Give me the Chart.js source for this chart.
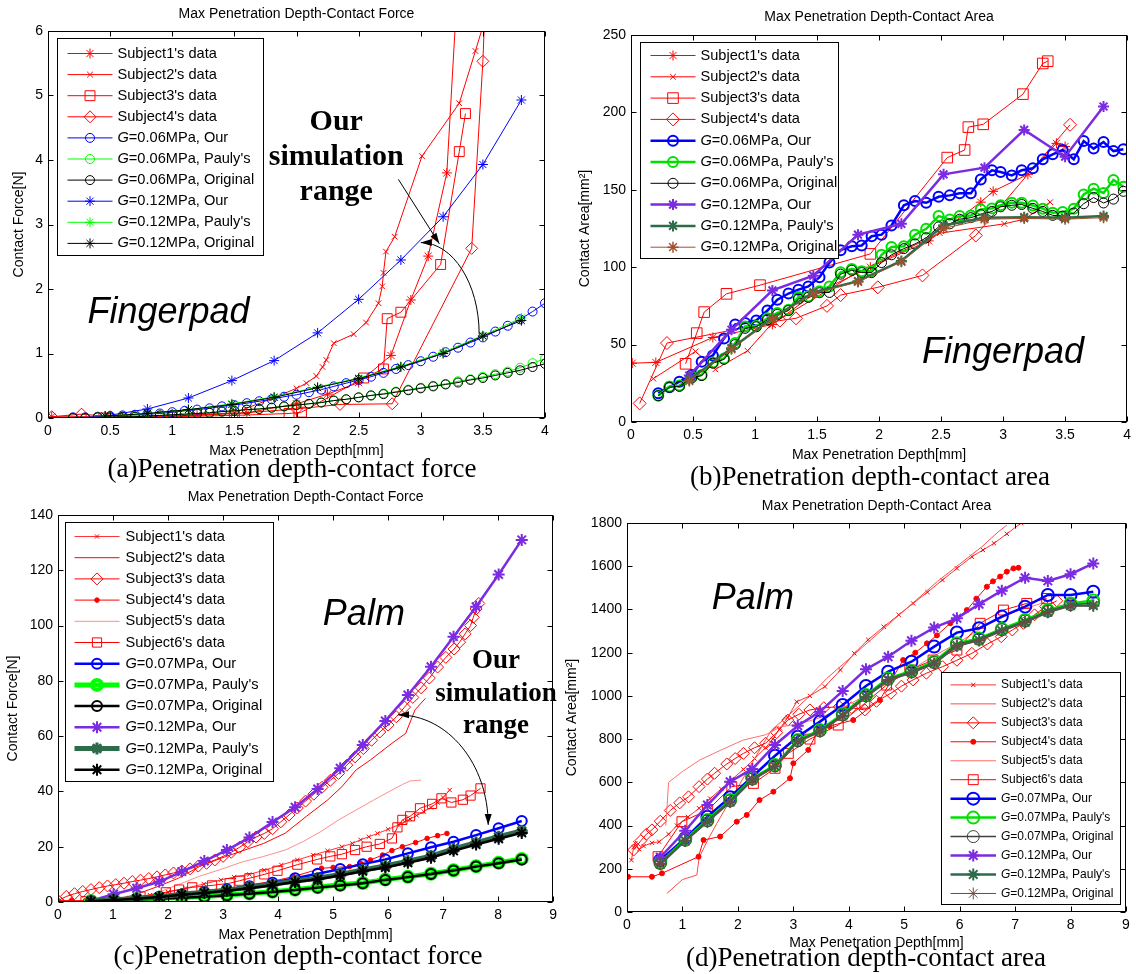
<!DOCTYPE html>
<html lang="en">
<head>
<meta charset="UTF-8">
<title>Penetration depth - contact force / area</title>
<script src="https://cdn.jsdelivr.net/npm/chart.js"></script>
<style>
  body { margin: 0; background: #fff; }
  #page { position: relative; width: 1136px; height: 974px; overflow: hidden; background: #fff; }
  canvas { position: absolute; }
  .cap {
    position: absolute; white-space: nowrap; color: #000;
    font-family: "Liberation Serif", "Times New Roman", serif;
    font-size: 27px; line-height: 27px; transform: translateX(-50%);
  }
</style>
</head>
<body>
<div id="page">
  <canvas id="chartA"></canvas>
  <canvas id="chartB"></canvas>
  <canvas id="chartC"></canvas>
  <canvas id="chartD"></canvas>
  <div class="cap" style="left:292px; top:455px;">(a)Penetration depth-contact force</div>
  <div class="cap" style="left:870px; top:463px;">(b)Penetration depth-contact area</div>
  <div class="cap" style="left:298px; top:942px;">(c)Penetration depth-contact force</div>
  <div class="cap" style="left:866px; top:944px;">(d)Penetration depth-contact area</div>
</div>
<script>
// ---------- (a) fingerpad, depth vs force ----------
const aSubj1 = [[0.03,0.02],[0.6,0.02],[1.2,0.04],[1.6,0.08],[2.0,0.22],[2.25,0.37],[2.5,0.55],[2.76,0.97],[2.92,1.83],[3.06,2.51],[3.21,3.80],[3.29,6.5]];
const aSubj2 = [[0.5,0.01],[1.0,0.03],[1.5,0.08],[1.8,0.3],[2.0,0.46],[2.08,0.54],[2.16,0.65],[2.21,0.79],[2.24,0.9],[2.3,1.16],[2.46,1.3],[2.56,1.48],[2.66,1.78],[2.69,2.04],[2.7,2.25],[2.72,2.58],[2.79,2.81],[3.01,4.06],[3.31,4.88],[3.44,5.69],[3.52,6.2]];
const aSubj3 = [[0.45,0.0],[1.0,0.02],[1.5,0.04],[1.94,0.07],[2.04,0.09],[2.54,0.62],[2.7,0.76],[2.73,1.54],[2.84,1.64],[3.16,2.38],[3.31,4.13],[3.36,4.72]];
const aSubj4 = [[0.03,0.02],[0.27,0.06],[0.5,0.02],[1.0,0.04],[1.5,0.07],[2.0,0.14],[2.35,0.21],[2.77,0.22],[3.41,2.63],[3.5,5.53],[3.52,6.5]];
const aX06 = [0.2,0.3,0.4,0.5,0.6,0.7,0.8,0.9,1.0,1.1,1.2,1.3,1.4,1.5,1.6,1.7,1.8,1.9,2.0,2.1,2.2,2.3,2.4,2.5,2.6,2.7,2.8,2.9,3.0,3.1,3.2,3.3,3.4,3.5,3.6,3.7,3.8,3.9,4.0];
const aOur06 = [0.01,0.01,0.02,0.03,0.04,0.05,0.06,0.07,0.09,0.11,0.13,0.15,0.18,0.2,0.23,0.26,0.29,0.33,0.36,0.4,0.44,0.49,0.54,0.59,0.64,0.7,0.76,0.82,0.88,0.95,1.02,1.09,1.17,1.25,1.34,1.43,1.53,1.65,1.78];
const aPauly06 = [0,0,0.01,0.01,0.02,0.02,0.03,0.04,0.05,0.06,0.07,0.08,0.1,0.11,0.13,0.14,0.16,0.18,0.2,0.22,0.24,0.27,0.29,0.32,0.35,0.38,0.41,0.44,0.47,0.5,0.53,0.57,0.6,0.64,0.68,0.72,0.78,0.85,0.92];
const aOrig06 = [0,0,0.01,0.01,0.02,0.02,0.03,0.04,0.05,0.06,0.07,0.08,0.1,0.11,0.13,0.14,0.16,0.18,0.2,0.22,0.24,0.27,0.29,0.32,0.35,0.37,0.4,0.43,0.46,0.49,0.52,0.55,0.59,0.62,0.66,0.7,0.74,0.79,0.84];
const aX12 = [0.46,0.8,1.13,1.48,1.82,2.17,2.5,2.84,3.18,3.5,3.81];
const aOur12 = [0.03,0.14,0.31,0.58,0.89,1.32,1.84,2.45,3.12,3.93,4.93];
const aPauly12 = [0.03,0.07,0.13,0.22,0.33,0.48,0.62,0.8,1.02,1.28,1.55];
const aOrig12 = [0.03,0.07,0.13,0.21,0.32,0.47,0.61,0.79,1.0,1.27,1.51];

// ---------- (b) fingerpad, depth vs area ----------
const bSubj1 = [[0.01,38],[0.2,38.5],[0.66,54.6],[1.14,63],[1.48,83],[1.93,100],[2.4,117],[2.82,142],[2.92,149],[3.2,160],[3.43,180],[3.5,178]];
const bSubj2 = [[0.18,28],[0.52,45.6],[0.68,34],[0.94,46],[1.13,63],[1.81,96],[2.49,122],[3.01,128],[3.17,131],[3.38,142]];
const bSubj3 = [[0.44,37.6],[0.53,57.4],[0.59,71],[0.77,82.8],[1.04,88.4],[1.93,108.6],[2.55,170.8],[2.69,175.7],[2.72,190.5],[2.84,192.3],[3.16,211.8],[3.32,231.6],[3.36,233.1]];
const bSubj4 = [[0.07,12],[0.29,51],[1.2,65.5],[1.33,67],[1.58,75],[1.69,82],[1.99,87],[2.35,94.7],[2.78,120.5],[3.54,192]];
const bX06 = [0.22,0.31,0.39,0.49,0.57,0.66,0.75,0.84,0.92,1.01,1.10,1.18,1.27,1.35,1.43,1.52,1.60,1.69,1.78,1.86,1.94,2.02,2.10,2.20,2.29,2.38,2.48,2.57,2.65,2.74,2.82,2.91,2.98,3.07,3.15,3.24,3.32,3.40,3.48,3.57,3.65,3.73,3.81,3.89,3.97];
const bOur06 = [18.6,22.5,26,30.4,39,43,54,63,64,65.6,72,79,83,85.5,87.6,93.5,103,111,113.5,114,120,121,127,140,142.7,141.6,145.5,146.4,147.7,147.7,156.7,162.6,161.5,159.3,162.6,163.9,169.7,172.9,175.7,169.7,181.5,176.6,180.9,175,176.2];
const bPauly06 = [17,23,23.5,29,30.4,38.5,41,51,61.7,62,67,70.4,72.5,80.7,81,84.4,87.6,96.7,98.9,97.4,97.4,108,113,113.5,121,124.8,133,130.8,133,133.4,137.3,138,140,141.6,141.6,139.9,137.8,135.2,135.6,137.8,147,150.7,148,156.3,152];
const bOrig06 = [17,22.5,23,28.5,30,38,40.5,50,60.5,61.5,66,69.5,72,79.5,80.5,83.5,83.7,95.5,98,96.5,96.5,103,108,112,115,119,126,128,131,132,134,136,139,140,140.5,138,136,133.5,133,135,141,145,141.5,144,149];
const bX12 = [0.47,0.81,1.14,1.47,1.83,2.18,2.52,2.85,3.17,3.50,3.81];
const bOur12 = [30,59.6,85,94.5,121,128,160,164.3,188.7,171.4,203.8];
const bPauly12 = [27.2,47.7,67,83.7,91,104,127,132,132.3,132,133];
const bOrig12 = [26.5,47,66.5,83,90.5,103.5,125,131,131.5,131,132];

// ---------- (c) palm, depth vs force ----------
const cSubj1 = [[0.5,0.3],[0.8,0.5],[1.0,0.8],[1.3,1.5],[1.67,2.5],[2.0,3.6],[2.32,5],[2.65,6.5],[2.96,8],[3.2,9],[3.48,10],[3.75,11.5],[4.06,13.4],[4.35,15.2],[4.64,17],[4.9,18.5],[5.16,20],[5.35,21.2],[5.5,22.5],[5.65,23.6],[5.81,24.8],[6.0,26.3],[6.19,27.9],[6.3,29],[6.4,30],[6.52,31.3],[6.65,32.7],[6.78,34.2],[6.9,36],[7.0,37.8],[7.12,40.5]];
const cSubj2 = [[1.05,0.9],[1.41,2.7],[1.8,5.5],[2.19,8.6],[2.57,12.8],[2.96,15.8],[3.35,18.5],[3.74,21.2],[4.13,24.9],[4.51,30.9],[4.9,36.9],[5.16,41.7],[5.42,47.8],[5.68,51.4],[6.07,57.4],[6.32,61],[6.49,69.5],[6.68,73.7]];
const cSubj3 = [[0,0.5],[0.15,2],[0.3,3],[0.45,3.8],[0.6,4.5],[0.75,5.2],[0.9,5.8],[1.05,6.3],[1.2,6.8],[1.35,7.4],[1.5,7.9],[1.65,8.5],[1.8,9.1],[1.95,9.8],[2.1,10.5],[2.25,11.2],[2.4,12],[2.55,13],[2.7,14],[2.85,15.2],[3.0,16.5],[3.15,18],[3.3,19.8],[3.45,21.8],[3.6,23.5],[3.75,24.8],[3.9,26.5],[4.05,29],[4.2,31.5],[4.35,34],[4.5,36.5],[4.65,39],[4.8,41.5],[4.95,44],[5.1,46.5],[5.25,49.5],[5.4,52.5],[5.55,55.5],[5.7,58.5],[5.85,61.5],[6.0,64],[6.15,67],[6.3,70.5],[6.45,74],[6.6,77.5],[6.75,81],[6.9,85],[7.05,88.5],[7.2,91.5],[7.3,94],[7.4,97],[7.5,100],[7.55,103],[7.6,106],[7.65,108]];
const cSubj4 = [[0,0.5],[0.25,0.5],[0.5,0.5],[1.0,0.6],[1.6,0.9],[2.22,2],[2.86,3.8],[3.48,6.2],[3.9,7.5],[4.28,9.2],[4.79,12.2],[5.0,12.5],[5.3,12.8],[5.5,14],[5.68,15.2],[5.9,17],[6.07,18.6],[6.26,20],[6.5,21.5],[6.71,23],[6.9,24],[7.07,24.8]];
const cSubj5 = [[0.9,0.3],[1.41,1.5],[1.8,3.3],[2.19,6.3],[2.57,9.3],[2.96,11.8],[3.35,14.5],[3.74,16.5],[4.13,18.8],[4.46,21.9],[4.78,25.5],[5.1,29.7],[5.42,33.3],[5.74,36.9],[6.07,40.5],[6.26,42.5],[6.4,43.8],[6.6,44.1]];
const cSubj6 = [[0.5,0.3],[1.0,1],[1.5,2],[1.96,3.5],[2.2,4.5],[2.44,5.3],[2.8,6],[3.12,6.8],[3.3,7.7],[3.48,8.6],[3.75,10],[3.99,11.3],[4.35,13.5],[4.71,15.4],[4.95,16.5],[5.16,17.3],[5.4,18.8],[5.61,20],[5.85,21],[6.07,23],[6.17,27],[6.26,29.7],[6.4,31],[6.58,33.9],[6.8,35.5],[6.97,37.5],[7.15,36],[7.36,37],[7.5,38.5],[7.68,41.1]];
const cX = [0.6,1.01,1.43,1.84,2.25,2.66,3.07,3.48,3.9,4.31,4.72,5.13,5.54,5.95,6.36,6.78,7.19,7.6,8.01,8.43];
const cOur07 = [0.4,0.8,1.3,1.9,2.7,3.6,4.6,5.7,7.0,8.6,10.2,11.9,13.7,15.4,17.6,19.8,21.8,24.2,26.7,29.3];
const cPauly07 = [0.4,0.8,1.0,1.3,1.6,2.0,2.5,3.1,3.7,4.4,5.3,6.2,6.9,8.1,9.1,10.2,11.5,12.9,14.2,15.6];
const cOrig07 = [0.3,0.7,0.9,1.2,1.5,1.9,2.4,3.0,3.6,4.3,5.2,6.0,6.8,8.0,9.0,10.1,11.4,12.8,14.0,15.4];
const cOur12 = [0.5,2.8,5,7.3,11,14.8,18.8,23.3,28.9,34.3,40.9,48.4,56.8,65.5,74.9,85.1,96,106.8,118.5,131];
const cPauly12 = [0.4,0.8,1.3,1.9,2.8,3.5,4.3,5.3,6.4,7.6,8.6,10,11.6,13,14.8,16.6,19.2,21.5,23.6,25.7];
const cOrig12 = [0.3,0.7,1.2,1.8,2.6,3.3,4.1,5.0,6.1,7.2,8.2,9.6,11.1,12.5,14.2,16.0,18.5,20.8,22.9,25.0];

// ---------- (d) palm, depth vs area ----------
const dSubj1 = [[0.08,240],[0.12,300],[0.15,318],[0.22,290],[0.3,305],[0.45,320],[0.58,325],[0.75,360],[0.9,400],[1.1,440],[1.3,480],[1.5,525],[1.7,570],[1.9,615],[2.1,660],[2.3,710],[2.5,760],[2.63,800],[2.76,850],[2.9,900],[3.06,973],[3.3,1000],[3.57,1043],[3.85,1120],[4.1,1197],[4.35,1260],[4.63,1320],[4.9,1375],[5.16,1428],[5.42,1480],[5.69,1536],[5.95,1590],[6.22,1644],[6.42,1675],[6.62,1706],[6.85,1750],[7.11,1800]];
const dSubj2 = [[0.72,86],[1.0,150],[1.26,171],[1.3,250],[1.45,330],[1.62,410],[2.04,595],[2.6,840],[3.0,930],[3.3,1000],[3.6,1080],[4.0,1170],[4.4,1260],[4.8,1350],[5.2,1440],[5.6,1530],[6.0,1610],[6.4,1690],[6.7,1760],[6.85,1790]];
const dSubj3 = [[0.12,287],[0.25,330],[0.35,360],[0.45,380],[0.6,420],[0.78,470],[0.95,505],[1.11,533],[1.3,580],[1.45,615],[1.58,642],[1.8,685],[1.95,710],[2.1,734],[2.3,760],[2.5,781],[2.7,830],[2.9,888],[3.1,915],[3.3,935],[3.55,945],[3.83,950],[4.05,945],[4.29,935],[4.5,975],[4.76,1012],[4.95,1045],[5.16,1074],[5.4,1105],[5.69,1135],[5.95,1165],[6.22,1197],[6.5,1240],[6.75,1274],[6.95,1305],[7.15,1336],[7.35,1375],[7.55,1413],[7.75,1440]];
const dSubj4 = [[0.02,163],[0.45,163],[0.63,179],[1.29,256],[1.38,333],[1.68,349],[1.98,418],[2.16,449],[2.39,518],[2.64,557],[2.94,619],[3.0,688],[3.27,750],[3.45,842],[3.65,860],[4.08,888],[4.56,981],[4.98,1166],[5.2,1200],[5.41,1243],[5.59,1280],[5.83,1336],[5.95,1360],[6.13,1397],[6.3,1450],[6.49,1505],[6.6,1530],[6.73,1552],[6.85,1575],[6.97,1590],[7.06,1593]];
const dSubj5 = [[0.7,400],[0.75,600],[1.0,650],[1.31,703],[1.7,750],[2.1,796],[2.5,820],[2.77,857],[3.1,870],[3.5,900],[4.0,960],[4.5,1030],[5.0,1100],[5.5,1180],[6.0,1250],[6.5,1330],[7.0,1390],[7.5,1430]];
const dSubj6 = [[0.56,256],[0.99,418],[1.45,470],[1.89,580],[2.28,595],[2.67,665],[2.91,734],[3.3,800],[3.81,865],[4.29,966],[4.68,1050],[5.1,1120],[5.52,1166],[5.95,1212],[6.37,1336],[6.79,1397],[7.21,1428],[7.57,1451]];
const dX = [0.6,1.05,1.45,1.86,2.26,2.67,3.08,3.48,3.89,4.31,4.71,5.13,5.54,5.95,6.35,6.76,7.18,7.59,8.0,8.41];
const dOur07 = [240,341,441,531,626,723,811,881,958,1046,1112,1158,1228,1293,1313,1367,1413,1467,1467,1482];
const dPauly07 = [228,336,426,518,619,680,796,842,916,1004,1081,1115,1158,1243,1266,1310,1351,1397,1428,1441];
const dOrig07 = [225,332,422,514,615,676,792,838,912,1000,1077,1111,1154,1238,1262,1306,1346,1392,1422,1430];
const dOur12 = [253,376,495,603,662,773,862,927,1023,1123,1181,1255,1316,1359,1424,1487,1547,1532,1563,1613];
const dPauly12 = [222,330,418,510,612,674,790,836,908,996,1074,1108,1150,1232,1258,1302,1342,1388,1418,1418];
const dOrig12 = [220,328,416,508,610,672,788,834,906,994,1072,1106,1148,1230,1256,1300,1340,1386,1416,1416];

// ---------- styling ----------
const FONT = '"Liberation Sans", Arial, Helvetica, sans-serif';
const SERIF = '"Liberation Serif", "Times New Roman", serif';
const RED = '#ff0000', PINK = '#ff7070', BLUE = '#0000ff', GREEN = '#00ff00', GREEN2 = '#00e000';
const PURPLE = '#7b2be2', DKGREEN = '#2e6b4a', BROWN = '#a0522d', DKBROWN = '#6e4a46', BLACK = '#000000';

const P = a => a.map(([x, y]) => ({x, y}));
const Z = (xs, ys) => xs.map((x, i) => ({x, y: ys[i]}));

function ser(label, data, o) {
  return {
    label, data,
    borderColor: o.c, borderWidth: o.lw || 1,
    pointStyle: o.m || 'circle',
    pointRadius: o.m ? o.r : 0,
    pointBorderColor: o.c,
    pointBorderWidth: o.bw || 1,
    pointBackgroundColor: o.fill || 'rgba(0,0,0,0)',
    tension: 0, fill: false
  };
}

function head(ctx, from, to) {
  const ang = Math.atan2(to[1] - from[1], to[0] - from[0]);
  const L = 11, W = 3.5;
  const bx = to[0] - L * Math.cos(ang), by = to[1] - L * Math.sin(ang);
  ctx.beginPath();
  ctx.moveTo(to[0], to[1]);
  ctx.lineTo(bx + W * Math.sin(ang), by - W * Math.cos(ang));
  ctx.lineTo(bx - W * Math.sin(ang), by + W * Math.cos(ang));
  ctx.closePath();
  ctx.fill();
}

// texts, arrows, matlab style box with inward ticks, legend inside the axes
const overlay = {
  id: 'overlay',
  afterDatasetsDraw(chart) {
    const o = chart.options.plugins.overlay;
    const {ctx, chartArea: a} = chart;
    const X = v => chart.scales.x.getPixelForValue(v);
    const Y = v => chart.scales.y.getPixelForValue(v);
    ctx.save();

    ctx.fillStyle = '#000';
    ctx.textAlign = 'center';
    ctx.textBaseline = 'alphabetic';
    o.texts.forEach(t => {
      ctx.font = t.font;
      t.lines.forEach((s, i) => ctx.fillText(s, X(t.x), Y(t.y) + i * (t.step || 0)));
    });

    ctx.strokeStyle = '#000';
    ctx.lineWidth = 1;
    o.arrows.forEach(ar => {
      const p = ar.pts.map(([x, y]) => [X(x), Y(y)]);
      ctx.beginPath();
      ctx.moveTo(p[0][0], p[0][1]);
      if (p.length === 4) ctx.bezierCurveTo(p[1][0], p[1][1], p[2][0], p[2][1], p[3][0], p[3][1]);
      else ctx.lineTo(p[1][0], p[1][1]);
      ctx.stroke();
      const n = p.length - 1;
      if (ar.end) head(ctx, p[n - 1], p[n]);
      if (ar.start) head(ctx, p[1], p[0]);
    });

    // box + ticks
    const l = Math.round(a.left) + 0.5, r = Math.round(a.right) - 0.5;
    const t = Math.round(a.top) + 0.5, b = Math.round(a.bottom) - 0.5;
    ctx.strokeRect(l, t, r - l, b - t);
    ctx.beginPath();
    chart.scales.x.ticks.forEach(tk => {
      const px = Math.round(X(tk.value)) + 0.5;
      ctx.moveTo(px, b); ctx.lineTo(px, b - 5);
      ctx.moveTo(px, t); ctx.lineTo(px, t + 5);
    });
    chart.scales.y.ticks.forEach(tk => {
      const py = Math.round(Y(tk.value)) + 0.5;
      ctx.moveTo(l, py); ctx.lineTo(l + 5, py);
      ctx.moveTo(r, py); ctx.lineTo(r - 5, py);
    });
    ctx.stroke();

    // legend
    const L = o.legend;
    const bx = Math.round(a.left + L.dx) + 0.5, by = Math.round(a.top + L.dy) + 0.5;
    ctx.fillStyle = '#fff';
    ctx.fillRect(bx, by, L.w, L.h);
    ctx.strokeStyle = '#000';
    ctx.lineWidth = 1;
    ctx.strokeRect(bx, by, L.w, L.h);
    ctx.textAlign = 'left';
    ctx.textBaseline = 'middle';
    chart.data.datasets.forEach((ds, i) => {
      const cy = by + L.first + i * L.step;
      ctx.strokeStyle = ds.borderColor;
      ctx.lineWidth = ds.borderWidth;
      ctx.beginPath();
      ctx.moveTo(bx + L.l0, cy); ctx.lineTo(bx + L.l1, cy);
      ctx.stroke();
      if (ds.pointRadius > 0) {
        ctx.fillStyle = ds.pointBackgroundColor;
        ctx.strokeStyle = ds.pointBorderColor;
        ctx.lineWidth = ds.pointBorderWidth;
        Chart.helpers.drawPoint(ctx, {pointStyle: ds.pointStyle, radius: ds.pointRadius, rotation: 0, borderWidth: ds.pointBorderWidth}, bx + (L.l0 + L.l1) / 2, cy);
      }
      ctx.fillStyle = '#000';
      let tx = bx + L.tx;
      const lab = ds.label;
      if (lab.startsWith('G=')) {
        ctx.font = 'italic ' + L.fs + 'px ' + FONT;
        ctx.fillText('G', tx, cy);
        tx += ctx.measureText('G').width;
        ctx.font = L.fs + 'px ' + FONT;
        ctx.fillText(lab.slice(1), tx, cy);
      } else {
        ctx.font = L.fs + 'px ' + FONT;
        ctx.fillText(lab, tx, cy);
      }
    });
    ctx.restore();
  }
};

function makeChart(id, g, sx, sy, title, yTitle, datasets, legend, texts, arrows) {
  const cv = document.getElementById(id);
  cv.style.left = g.cl + 'px';
  cv.style.top = g.ct + 'px';
  cv.width = g.cw; cv.height = g.ch;
  const lh = 14 * 1.2;
  const tTop = g.titleY - g.ct - lh / 2;
  const tBot = g.pt - g.ct - lh - tTop;
  const yW = g.pl - g.cl;
  const xH = g.ct + g.ch - g.pb;
  const f14 = {family: FONT, size: 14};
  const n = datasets.length;
  datasets.forEach((d, i) => { d.order = n - i; });
  return new Chart(cv, {
    type: 'line',
    data: {datasets},
    options: {
      responsive: false, animation: false, events: [],
      layout: {autoPadding: false, padding: {left: 0, top: 0, right: g.cl + g.cw - g.pr, bottom: 0}},
      plugins: {
        legend: {display: false},
        tooltip: {enabled: false},
        title: {display: true, text: title, fullSize: false, color: '#000', font: {family: FONT, size: 14, weight: 'normal'}, padding: {top: tTop, bottom: tBot}},
        overlay: {legend, texts, arrows}
      },
      scales: {
        x: {
          type: 'linear', min: sx[0], max: sx[1],
          afterFit(s) { s.height = xH; },
          grid: {display: false, drawTicks: false}, border: {display: false},
          ticks: {stepSize: sx[2], color: '#000', font: f14, padding: 5, maxRotation: 0, autoSkip: false, callback: v => String(v)},
          title: {display: true, text: 'Max Penetration Depth[mm]', color: '#000', font: f14, padding: {top: 0, bottom: g.ct + g.ch - g.xTitleY - lh / 2}}
        },
        y: {
          type: 'linear', min: sy[0], max: sy[1],
          afterFit(s) { s.width = yW; },
          grid: {display: false, drawTicks: false}, border: {display: false},
          ticks: {stepSize: sy[2], color: '#000', font: f14, padding: 5, autoSkip: false, callback: v => String(v)},
          title: {display: true, text: yTitle, color: '#000', font: f14, padding: {top: g.yTitleX - g.cl - lh / 2, bottom: 0}}
        }
      }
    },
    plugins: [overlay]
  });
}

// (a)
makeChart('chartA',
  {cl: 0, ct: 0, cw: 560, ch: 470, pl: 48, pt: 31, pr: 545, pb: 418, titleY: 14, xTitleY: 451, yTitleX: 19},
  [0, 4, 0.5], [0, 6, 1],
  'Max Penetration Depth-Contact Force', 'Contact Force[N]',
  [
    ser("Subject1's data", P(aSubj1), {c: RED, m: 'star', r: 5}),
    ser("Subject2's data", P(aSubj2), {c: RED, m: 'crossRot', r: 4}),
    ser("Subject3's data", P(aSubj3), {c: RED, m: 'rect', r: 7}),
    ser("Subject4's data", P(aSubj4), {c: RED, m: 'rectRot', r: 6}),
    ser('G=0.06MPa, Our', Z(aX06, aOur06), {c: BLUE, m: 'circle', r: 4.5}),
    ser("G=0.06MPa, Pauly's", Z(aX06, aPauly06), {c: GREEN, m: 'circle', r: 4.5}),
    ser('G=0.06MPa, Original', Z(aX06, aOrig06), {c: BLACK, m: 'circle', r: 4.5}),
    ser('G=0.12MPa, Our', Z(aX12, aOur12), {c: BLUE, m: 'star', r: 5}),
    ser("G=0.12MPa, Pauly's", Z(aX12, aPauly12), {c: GREEN, m: 'star', r: 5}),
    ser('G=0.12MPa, Original', Z(aX12, aOrig12), {c: BLACK, m: 'star', r: 5})
  ],
  {dx: 9, dy: 7, w: 206, h: 217, first: 15, step: 21.1, l0: 10, l1: 55, tx: 60, fs: 14.6},
  [
    {x: 0.97, y: 1.47, lines: ['Fingerpad'], font: 'italic 36px ' + FONT},
    {x: 2.32, y: 4.47, lines: ['Our', 'simulation', 'range'], step: 35, font: 'bold 30px ' + SERIF}
  ],
  [
    {pts: [[2.82, 3.70], [3.15, 2.70]], end: true},
    {pts: [[3.47, 1.3], [3.47, 2.08], [3.26, 2.72], [3.0, 2.72]], end: true}
  ]
);

// (b)
makeChart('chartB',
  {cl: 570, ct: 0, cw: 566, ch: 476, pl: 631, pt: 35, pr: 1130, pb: 422, titleY: 17, xTitleY: 455, yTitleX: 585},
  [0, 4, 0.5], [0, 250, 50],
  'Max Penetration Depth-Contact Area', 'Contact Area[mm\u00B2]',
  [
    ser("Subject1's data", P(bSubj1), {c: RED, m: 'star', r: 5}),
    ser("Subject2's data", P(bSubj2), {c: RED, m: 'crossRot', r: 4}),
    ser("Subject3's data", P(bSubj3), {c: RED, m: 'rect', r: 7.5}),
    ser("Subject4's data", P(bSubj4), {c: RED, m: 'rectRot', r: 6.5}),
    ser('G=0.06MPa, Our', Z(bX06, bOur06), {c: BLUE, lw: 2.5, m: 'circle', r: 5, bw: 2}),
    ser("G=0.06MPa, Pauly's", Z(bX06, bPauly06), {c: GREEN2, lw: 2.5, m: 'circle', r: 5, bw: 2}),
    ser('G=0.06MPa, Original', Z(bX06, bOrig06), {c: BLACK, lw: 1, m: 'circle', r: 5}),
    ser('G=0.12MPa, Our', Z(bX12, bOur12), {c: PURPLE, lw: 2.5, m: 'star', r: 5.5, bw: 2}),
    ser("G=0.12MPa, Pauly's", Z(bX12, bPauly12), {c: DKGREEN, lw: 2.5, m: 'star', r: 5.5, bw: 2}),
    ser('G=0.12MPa, Original', Z(bX12, bOrig12), {c: BROWN, lw: 1, m: 'star', r: 5.5, bw: 1.5})
  ],
  {dx: 9, dy: 7, w: 198, h: 216, first: 13, step: 21.3, l0: 10, l1: 55, tx: 60, fs: 14.6},
  [
    {x: 3.0, y: 38, lines: ['Fingerpad'], font: 'italic 36px ' + FONT}
  ],
  []
);

// (c)
makeChart('chartC',
  {cl: 0, ct: 485, cw: 562, ch: 460, pl: 58, pt: 515, pr: 557, pb: 902, titleY: 497, xTitleY: 935, yTitleX: 13},
  [0, 9, 1], [0, 140, 20],
  'Max Penetration Depth-Contact Force', 'Contact Force[N]',
  [
    ser("Subject1's data", P(cSubj1), {c: RED, lw: 0.8, m: 'crossRot', r: 3}),
    ser("Subject2's data", P(cSubj2), {c: RED, lw: 1}),
    ser("Subject3's data", P(cSubj3), {c: RED, m: 'rectRot', r: 6}),
    ser("Subject4's data", P(cSubj4), {c: RED, m: 'circle', r: 2.3, fill: RED}),
    ser("Subject5's data", P(cSubj5), {c: PINK, lw: 0.8}),
    ser("Subject6's data", P(cSubj6), {c: RED, m: 'rect', r: 6.5}),
    ser('G=0.07MPa, Our', Z(cX, cOur07), {c: BLUE, lw: 2.5, m: 'circle', r: 5, bw: 2}),
    ser("G=0.07MPa, Pauly's", Z(cX, cPauly07), {c: GREEN, lw: 5, m: 'circle', r: 5, bw: 4}),
    ser('G=0.07MPa, Original', Z(cX, cOrig07), {c: BLACK, lw: 2.5, m: 'circle', r: 5, bw: 2}),
    ser('G=0.12MPa, Our', Z(cX, cOur12), {c: PURPLE, lw: 2.5, m: 'star', r: 6, bw: 2}),
    ser("G=0.12MPa, Pauly's", Z(cX, cPauly12), {c: DKGREEN, lw: 5, m: 'star', r: 6, bw: 3}),
    ser('G=0.12MPa, Original', Z(cX, cOrig12), {c: BLACK, lw: 2.5, m: 'star', r: 6, bw: 2})
  ],
  {dx: 7, dy: 7, w: 208, h: 259, first: 14, step: 21.2, l0: 9, l1: 54, tx: 60, fs: 14.6},
  [
    {x: 5.56, y: 100.2, lines: ['Palm'], font: 'italic 36px ' + FONT},
    {x: 7.96, y: 84.5, lines: ['Our', 'simulation', 'range'], step: 32.5, font: 'bold 27px ' + SERIF}
  ],
  [
    {pts: [[6.18, 67.7], [7.09, 67.7], [7.82, 49.9], [7.82, 27.9]], start: true, end: true}
  ]
);

// (d)
makeChart('chartD',
  {cl: 560, ct: 490, cw: 576, ch: 465, pl: 627, pt: 523, pr: 1126, pb: 912, titleY: 506, xTitleY: 943, yTitleX: 572},
  [0, 9, 1], [0, 1800, 200],
  'Max Penetration Depth-Contact Area', 'Contact Area[mm\u00B2]',
  [
    ser("Subject1's data", P(dSubj1), {c: RED, lw: 0.8, m: 'crossRot', r: 3}),
    ser("Subject2's data", P(dSubj2), {c: '#ff4a4a', lw: 1}),
    ser("Subject3's data", P(dSubj3), {c: RED, m: 'rectRot', r: 6}),
    ser("Subject4's data", P(dSubj4), {c: RED, m: 'circle', r: 2.5, fill: RED}),
    ser("Subject5's data", P(dSubj5), {c: PINK, lw: 1}),
    ser("Subject6's data", P(dSubj6), {c: RED, m: 'rect', r: 7}),
    ser('G=0.07MPa, Our', Z(dX, dOur07), {c: BLUE, lw: 2.5, m: 'circle', r: 6, bw: 2}),
    ser("G=0.07MPa, Pauly's", Z(dX, dPauly07), {c: GREEN2, lw: 2.5, m: 'circle', r: 6, bw: 2}),
    ser('G=0.07MPa, Original', Z(dX, dOrig07), {c: '#404040', lw: 1.5, m: 'circle', r: 6, bw: 1}),
    ser('G=0.12MPa, Our', Z(dX, dOur12), {c: PURPLE, lw: 2.5, m: 'star', r: 6, bw: 2}),
    ser("G=0.12MPa, Pauly's", Z(dX, dPauly12), {c: DKGREEN, lw: 2.5, m: 'star', r: 6, bw: 2}),
    ser('G=0.12MPa, Original', Z(dX, dOrig12), {c: DKBROWN, lw: 1, m: 'star', r: 6, bw: 1})
  ],
  {dx: 313.5, dy: 149.3, w: 179, h: 232, first: 12.4, step: 18.96, l0: 9, l1: 54.5, tx: 59.5, fs: 12},
  [
    {x: 2.27, y: 1401, lines: ['Palm'], font: 'italic 36px ' + FONT}
  ],
  []
);
</script>
</body>
</html>
